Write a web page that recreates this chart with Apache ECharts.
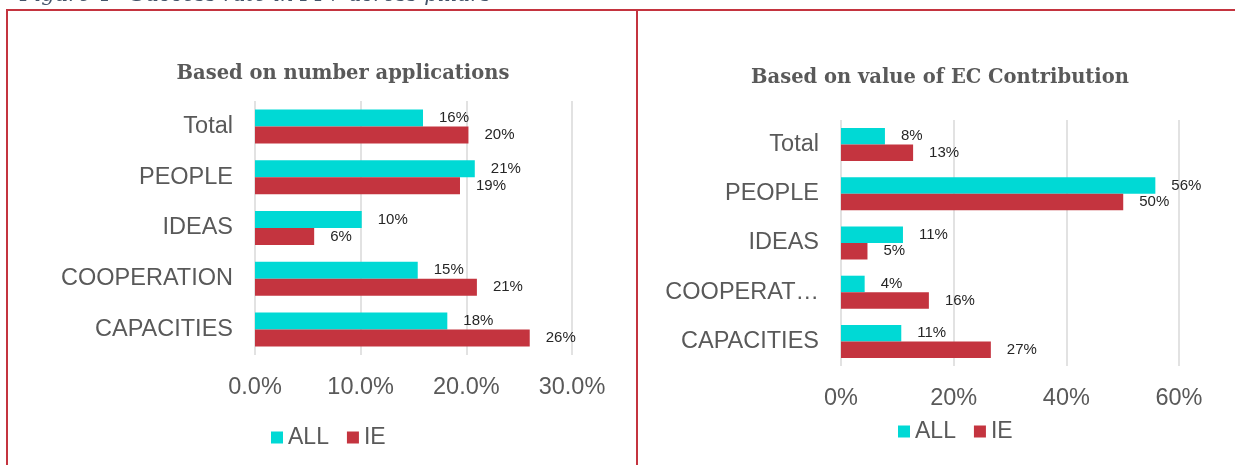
<!DOCTYPE html>
<html>
<head>
<meta charset="utf-8">
<script src="https://cdn.jsdelivr.net/npm/echarts@6/dist/echarts.min.js"></script>
<style>
  html, body { margin: 0; padding: 0; background: #fff; }
  #chart { width: 1235px; height: 465px; }
</style>
</head>
<body>
<div id="chart"></div>
<script>
const categories = ['Total', 'PEOPLE', 'IDEAS', 'COOPERATION', 'CAPACITIES'];
const seriesNames = ['ALL', 'IE'];

// left: based on number of applications
const appsAll = [0.159, 0.208, 0.101, 0.154, 0.182];
const appsIE = [0.202, 0.194, 0.056, 0.210, 0.260];
const appsTicks = { min: 0, max: 0.3, interval: 0.1 };

// right: based on value of EC contribution
const valueAll = [0.078, 0.558, 0.110, 0.042, 0.107];
const valueIE = [0.128, 0.501, 0.047, 0.156, 0.266];
const valueTicks = { min: 0, max: 0.6, interval: 0.2 };

const colors = ['#00D9D5', '#C4343F'];
const grey = '#595959';
const frameRed = '#C4343F';

const chart = echarts.init(document.getElementById('chart'), null, { renderer: 'canvas' });

function pct(digits) {
    return (v) => (v * 100).toFixed(digits) + '%';
}

function xAxis(gridIndex, ticks, digits) {
    return {
        type: 'value',
        gridIndex: gridIndex,
        min: ticks.min,
        max: ticks.max,
        interval: ticks.interval,
        axisLine: { show: false },
        axisTick: { show: false },
        splitLine: { lineStyle: { color: '#D9D9D9', width: 1.5 } },
        axisLabel: {
            formatter: pct(digits),
            color: grey,
            fontFamily: 'Liberation Sans',
            fontSize: 23.5,
            margin: 21
        }
    };
}

function yAxis(gridIndex, labelWidth) {
    return {
        type: 'category',
        gridIndex: gridIndex,
        data: categories,
        inverse: true,
        axisLine: { show: false },
        axisTick: { show: false },
        axisLabel: {
            color: grey,
            fontFamily: 'Liberation Sans',
            fontSize: 23.5,
            margin: 22,
            width: labelWidth,
            overflow: 'truncate',
            ellipsis: '…'
        }
    };
}

function bars(name, data, idx, color, width) {
    return {
        name: name,
        type: 'bar',
        xAxisIndex: idx,
        yAxisIndex: idx,
        data: data,
        barWidth: width,
        barGap: '0%',
        itemStyle: { color: color },
        label: {
            show: true,
            position: 'right',
            distance: 16,
            formatter: (p) => Math.round(p.value * 100) + '%',
            color: '#262626',
            fontFamily: 'Liberation Sans',
            fontSize: 15
        }
    };
}

const titleStyle = {
    fontFamily: 'DejaVu Serif',
    fontWeight: 'bold',
    fontSize: 19.5,
    color: grey
};

const legendBase = {
    data: seriesNames,
    itemWidth: 12,
    itemHeight: 12,
    itemGap: 18,
    icon: 'rect',
    textStyle: { color: grey, fontFamily: 'Liberation Sans', fontSize: 23 }
};

chart.setOption({
    animation: false,
    color: colors,
    title: [
        { text: 'Based on number applications', left: 338, top: 59, textAlign: 'center', textStyle: titleStyle },
        { text: 'Based on value of EC Contribution', left: 935, top: 63, textAlign: 'center', textStyle: titleStyle }
    ],
    legend: [
        Object.assign({ left: 266, top: 421 }, legendBase),
        Object.assign({ left: 893, top: 415 }, legendBase)
    ],
    grid: [
        { left: 255, right: 1235 - 572, top: 101, height: 254 },
        { left: 841, right: 1235 - 1179, top: 120, height: 246 }
    ],
    xAxis: [xAxis(0, appsTicks, 1), xAxis(1, valueTicks, 0)],
    yAxis: [yAxis(0, 200), yAxis(1, 157)],
    series: [
        bars('ALL', appsAll, 0, colors[0], 17),
        bars('IE', appsIE, 0, colors[1], 17),
        bars('ALL', valueAll, 1, colors[0], 16.5),
        bars('IE', valueIE, 1, colors[1], 16.5)
    ],
    graphic: [
        // figure caption, cut off at the top of the picture
        {
            type: 'text', left: 20, top: -15,
            style: {
                text: 'Figure 4 - Success rate in FP7 across pillars',
                fill: '#44546A',
                font: 'italic 21px "DejaVu Serif"'
            }
        },
        // frame around the two panels
        { type: 'line', shape: { x1: 6, y1: 10, x2: 1235, y2: 10 }, style: { stroke: frameRed, lineWidth: 2 } },
        { type: 'line', shape: { x1: 7, y1: 10, x2: 7, y2: 465 }, style: { stroke: frameRed, lineWidth: 2 } },
        { type: 'line', shape: { x1: 637, y1: 10, x2: 637, y2: 465 }, style: { stroke: frameRed, lineWidth: 2 } }
    ]
});
</script>
</body>
</html>
